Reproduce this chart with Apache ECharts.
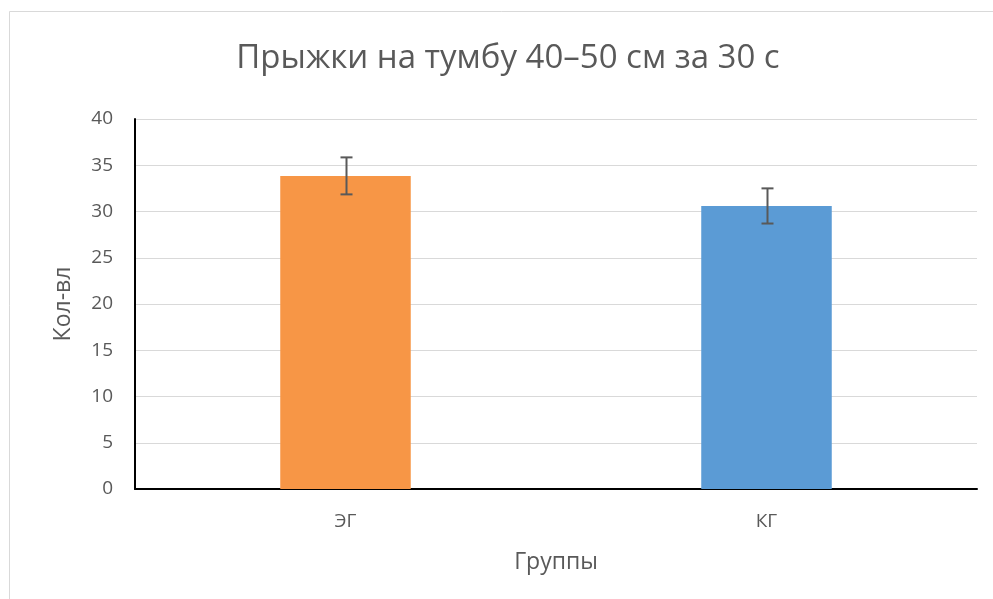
<!DOCTYPE html>
<html><head><meta charset="utf-8">
<script src="https://cdn.jsdelivr.net/npm/echarts@6/dist/echarts.min.js"></script>
<style>html,body{margin:0;padding:0;background:#fff}#c{width:993px;height:599px}</style>
</head><body><div id="c"></div>
<script>
const categories = ['ЭГ', 'КГ'];
const means = [33.85, 30.6];
const errors = [2.0, 1.9];
const barColors = ['#F79646', '#5B9BD5'];
const yTicks = [0, 5, 10, 15, 20, 25, 30, 35, 40];

const chart = echarts.init(document.getElementById('c'));
const font = '"Open Sans", sans-serif';
chart.setOption({
  animation: false,
  backgroundColor: '#fff',
  graphic: [{
    type: 'rect', z: -1, silent: true,
    shape: { x: 9.5, y: 11.5, width: 1200, height: 1000 },
    style: { fill: 'none', stroke: '#d9d9d9', lineWidth: 1 }
  }],
  title: {
    text: 'Прыжки на тумбу 40–50 см за 30 с',
    left: 503, top: 37, textAlign: 'center',
    textStyle: { fontFamily: font, fontSize: 33, fontWeight: 'normal', color: '#595959' }
  },
  grid: { left: 135, right: 16, top: 119, bottom: 110 },
  xAxis: {
    type: 'category', data: categories,
    name: 'Группы', nameLocation: 'middle', nameGap: 62,
    nameTextStyle: { fontFamily: font, fontSize: 23, color: '#595959' },
    axisLine: { lineStyle: { color: '#000', width: 2 } },
    axisTick: { show: false },
    axisLabel: { fontFamily: font, fontSize: 19, color: '#595959', margin: 23 }
  },
  yAxis: {
    type: 'value', min: yTicks[0], max: yTicks[yTicks.length - 1], interval: 5,
    name: 'Кол-вл', nameLocation: 'middle', nameGap: 60,
    nameTextStyle: { fontFamily: font, fontSize: 23, color: '#595959' },
    axisLine: { show: true, lineStyle: { color: '#000', width: 2 } },
    axisTick: { show: false },
    axisLabel: { fontFamily: font, fontSize: 19, color: '#595959', margin: 22 },
    splitLine: { lineStyle: { color: '#d9d9d9', width: 1 } }
  },
  series: [{
    type: 'bar', barWidth: '31%',
    data: means.map((v, i) => ({ value: v, itemStyle: { color: barColors[i] } }))
  }, {
    type: 'custom', z: 10,
    data: means.map((v, i) => [i, v - errors[i], v + errors[i]]),
    renderItem: function (params, api) {
      const lo = api.coord([api.value(0), api.value(1)]);
      const hi = api.coord([api.value(0), api.value(2)]);
      const x = Math.round(lo[0]) + 0.5;
      const w = 6;
      const st = { stroke: '#595959', lineWidth: 2 };
      return { type: 'group', children: [
        { type: 'line', shape: { x1: x, y1: hi[1], x2: x, y2: lo[1] }, style: st },
        { type: 'line', shape: { x1: x - w, y1: hi[1], x2: x + w, y2: hi[1] }, style: st },
        { type: 'line', shape: { x1: x - w, y1: lo[1], x2: x + w, y2: lo[1] }, style: st }
      ]};
    }
  }]
});
</script></body></html>
